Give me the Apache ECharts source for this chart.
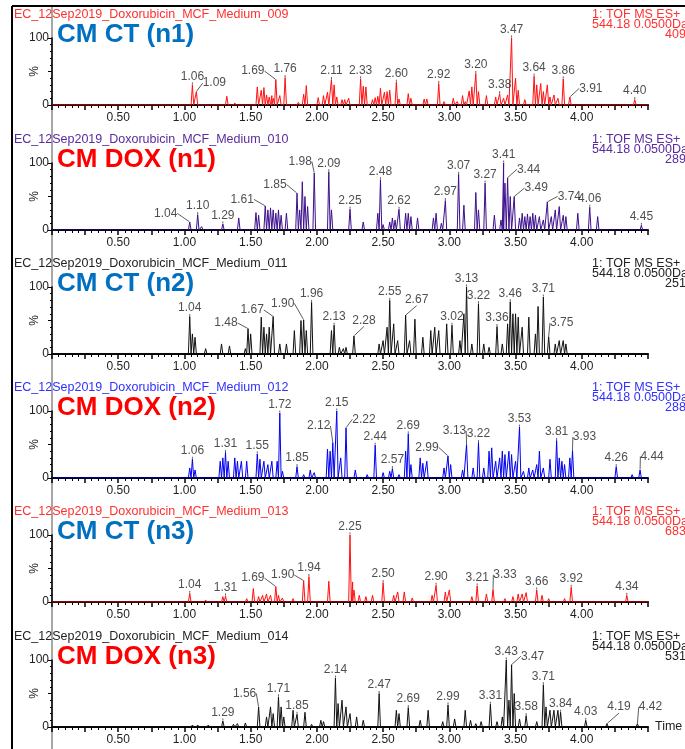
<!DOCTYPE html>
<html><head><meta charset="utf-8">
<script src="https://cdn.jsdelivr.net/npm/echarts@6/dist/echarts.min.js"></script>
<style>html,body{margin:0;padding:0;background:#fff}#c{width:685px;height:749px}</style>
</head><body><div id="c"></div>
<script>
// ---------- DATA ----------
const fileNames = [
  'EC_12Sep2019_Doxorubicin_MCF_Medium_009','EC_12Sep2019_Doxorubicin_MCF_Medium_010',
  'EC_12Sep2019_Doxorubicin_MCF_Medium_011','EC_12Sep2019_Doxorubicin_MCF_Medium_012',
  'EC_12Sep2019_Doxorubicin_MCF_Medium_013','EC_12Sep2019_Doxorubicin_MCF_Medium_014'];
const sampleNames = ['CM CT (n1)','CM DOX (n1)','CM CT (n2)','CM DOX (n2)','CM CT (n3)','CM DOX (n3)'];
const headerLine1 = '1: TOF MS ES+';
const headerLine2 = '544.18 0.0500Da';
const intensities = ['409','289','251','288','683','531'];
const xTickLabels = ['0.50','1.00','1.50','2.00','2.50','3.00','3.50','4.00'];
const yTickLabels = ['0','','100'];

// labelled peaks [time, %]
const ct1Labelled = [[1.06,30],[1.09,20],[1.69,38],[1.76,41],[2.11,38],[2.33,39],[2.60,34],[2.92,32],[3.20,47],[3.38,17],[3.47,100],[3.64,43],[3.86,39],[3.91,12],[4.40,8]];
const ct1Other = [[1.32,13],[1.38,3],[1.55,27],[1.58,22],[1.60,26],[1.62,15],[1.64,12],[1.66,14],[1.67,10],[1.72,14],[1.86,4],[1.90,16],[1.92,29],[2.01,11],[2.05,14],[2.08,19],[2.13,30],[2.15,12],[2.19,8],[2.21,8],[2.24,10],[2.35,28],[2.37,27],[2.42,8],[2.44,11],[2.46,13],[2.48,25],[2.51,19],[2.53,20],[2.55,22],[2.62,9],[2.69,17],[2.71,10],[2.81,9],[2.83,9],[2.96,5],[3.03,10],[3.06,5],[3.10,14],[3.12,5],[3.15,21],[3.17,27],[3.22,20],[3.28,14],[3.35,12],[3.41,10],[3.44,15],[3.50,40],[3.52,22],[3.57,8],[3.66,30],[3.69,32],[3.71,20],[3.74,30],[3.76,12],[3.79,15],[3.82,10]];

const dox1Labelled = [[1.04,12],[1.10,23],[1.29,9],[1.61,36],[1.85,55],[1.98,85],[2.09,87],[2.25,31],[2.48,75],[2.62,31],[2.97,44],[3.07,83],[3.27,70],[3.41,100],[3.44,78],[3.49,50],[3.74,42],[4.06,34],[4.45,7]];
const dox1Other = [[1.13,5],[1.41,18],[1.54,26],[1.56,22],[1.63,30],[1.65,33],[1.67,30],[1.69,25],[1.71,30],[1.73,22],[1.77,25],[1.87,30],[1.89,72],[1.91,50],[1.93,35],[2.11,30],[2.35,12],[2.46,25],[2.50,8],[2.55,12],[2.57,18],[2.59,15],[2.67,25],[2.69,25],[2.71,20],[2.76,18],[2.88,18],[2.90,25],[2.94,10],[3.11,37],[3.20,56],[3.22,30],[3.34,22],[3.39,15],[3.42,70],[3.46,50],[3.53,18],[3.55,25],[3.57,20],[3.59,24],[3.61,20],[3.63,25],[3.65,22],[3.68,20],[3.71,15],[3.77,20],[3.80,30],[3.83,35],[3.86,22],[3.88,20],[3.97,25],[4.12,20]];

const ct2Labelled = [[1.04,56],[1.48,38],[1.67,56],[1.90,51],[1.96,77],[2.13,43],[2.28,27],[2.55,80],[2.67,58],[3.02,43],[3.13,100],[3.22,75],[3.36,41],[3.46,78],[3.71,85],[3.75,26]];
const ct2Other = [[1.06,30],[1.08,25],[1.16,8],[1.28,15],[1.34,12],[1.46,8],[1.50,30],[1.58,55],[1.60,40],[1.62,30],[1.64,40],[1.72,15],[1.77,15],[1.83,35],[1.88,50],[1.92,35],[2.11,35],[2.17,10],[2.20,8],[2.22,10],[2.47,15],[2.50,20],[2.53,40],[2.58,45],[2.61,20],[2.70,20],[2.74,52],[2.80,25],[2.86,35],[2.89,40],[2.92,35],[2.98,45],[3.08,20],[3.11,60],[3.17,15],[3.26,15],[3.30,10],[3.40,15],[3.44,45],[3.48,60],[3.50,60],[3.52,55],[3.55,40],[3.60,55],[3.65,30],[3.67,71],[3.80,15],[3.83,20],[3.86,20],[3.88,15]];

const dox2Labelled = [[1.06,28],[1.31,38],[1.55,36],[1.72,97],[1.85,17],[2.12,53],[2.15,100],[2.22,75],[2.44,49],[2.57,14],[2.69,66],[2.99,33],[3.13,50],[3.22,53],[3.53,76],[3.81,56],[3.93,41],[4.26,17],[4.44,12]];
const dox2Other = [[1.04,15],[1.08,12],[1.27,25],[1.29,30],[1.33,25],[1.38,30],[1.40,25],[1.43,25],[1.47,25],[1.57,28],[1.60,25],[1.63,20],[1.66,25],[1.70,25],[1.74,10],[1.90,5],[1.95,12],[1.98,8],[2.08,43],[2.10,40],[2.18,30],[2.29,12],[2.38,5],[2.50,8],[2.55,10],[2.62,5],[2.67,40],[2.71,20],[2.78,30],[2.80,22],[2.83,25],[2.96,15],[3.01,20],[3.10,12],[3.18,15],[3.26,15],[3.30,40],[3.32,45],[3.35,25],[3.38,30],[3.40,40],[3.42,35],[3.45,40],[3.47,35],[3.50,25],[3.56,10],[3.60,15],[3.63,12],[3.66,20],[3.68,40],[3.71,15],[3.76,28],[3.83,30],[3.85,25],[3.87,20],[3.91,30],[4.38,5]];

const ct3Labelled = [[1.04,13],[1.31,9],[1.69,23],[1.90,32],[1.94,38],[2.25,100],[2.50,29],[2.90,25],[3.21,24],[3.33,19],[3.66,18],[3.92,22],[4.34,10]];
const ct3Other = [[1.16,3],[1.29,8],[1.47,5],[1.52,20],[1.56,8],[1.59,10],[1.62,12],[1.65,10],[1.71,10],[1.74,6],[1.82,5],[2.09,31],[2.27,30],[2.28,18],[2.32,10],[2.37,8],[2.42,10],[2.58,10],[2.61,15],[2.66,15],[2.72,6],[2.87,10],[2.97,15],[3.00,18],[3.17,8],[3.28,12],[3.42,5],[3.48,8],[3.52,12],[3.55,12],[3.58,14],[3.70,10],[3.75,5],[3.87,5]];

const dox3Labelled = [[1.29,9],[1.56,30],[1.71,45],[1.85,19],[2.14,73],[2.47,50],[2.69,29],[2.99,33],[3.31,34],[3.43,100],[3.47,93],[3.58,17],[3.71,63],[3.84,22],[4.03,10],[4.19,5],[4.42,5]];
const dox3Other = [[1.06,3],[1.10,3],[1.18,3],[1.37,4],[1.40,5],[1.46,6],[1.62,15],[1.65,30],[1.67,20],[1.73,30],[1.75,15],[1.82,25],[1.91,22],[1.96,4],[2.03,10],[2.05,8],[2.16,35],[2.19,40],[2.22,30],[2.25,20],[2.30,15],[2.35,10],[2.60,25],[2.62,20],[2.78,10],[2.84,25],[2.95,8],[3.04,12],[3.12,25],[3.16,10],[3.20,5],[3.24,8],[3.36,8],[3.40,15],[3.45,40],[3.49,50],[3.53,12],[3.66,8],[3.73,30],[3.76,25],[3.79,25],[3.82,25]];

const labelledPeaks = [ct1Labelled, dox1Labelled, ct2Labelled, dox2Labelled, ct3Labelled, dox3Labelled];
const otherPeaks = [ct1Other, dox1Other, ct2Other, dox2Other, ct3Other, dox3Other];

// ---------- STYLE ----------
const FONT = '"Liberation Sans", Arial, sans-serif';
const gridTops = [38, 163, 287, 411, 535, 660];
const gridH = 67, gridL = 52, gridW = 596;
const lineColors = ['#ff1010','#3c0f8c','#111111','#0000f0','#ff1010','#111111'];
const fileColors = ['#ff3030','#5a2a9e','#222222','#3030ff','#ff3030','#222222'];
const nameColors = ['#0070c0','#ff0000','#0070c0','#ff0000','#0070c0','#ff0000'];
const halfW = 0.01; // drawn half width of a peak (min)
const labelShift = [
  {'1.09':[18,0],'1.69':[-23,0],'3.91':[21,0]},
  {'1.04':[-24,0],'1.61':[-23,2],'1.85':[-22,0],'1.98':[-14,-3],'3.44':[21,0],'3.49':[22,0],'3.74':[22,3]},
  {'1.48':[-22,3],'1.67':[-21,2],'1.90':[-21,-8],'2.28':[10,-7],'2.67':[11,-7],'3.75':[13,-5]},
  {'2.12':[-14,-8],'2.22':[18,0],'2.99':[-21,0],'3.13':[-12,-5],'3.93':[12,-5],'4.44':[12,-5]},
  {'1.69':[-23,0],'1.90':[-21,3],'3.33':[12,-6]},
  {'1.56':[-14,-5],'3.47':[21,0],'4.19':[12,-8],'4.42':[13,-8]}
];

function buildTrace(a, b) {
  const peaks = a.concat(b).sort((p, q) => p[0] - q[0]);
  const pts = [[0, 0]];
  peaks.forEach(p => { pts.push([p[0] - halfW, 0], [p[0], p[1]], [p[0] + halfW, 0]); });
  pts.push([4.5, 0]);
  pts.sort((p, q) => p[0] - q[0]);
  return pts;
}

const grids = [], xAxes = [], yAxes = [], series = [], graphics = [];
for (let i = 0; i < 6; i++) {
  grids.push({left: gridL, top: gridTops[i], width: gridW, height: gridH});
  xAxes.push({
    gridIndex: i, type: 'value', min: 0, max: 4.5, interval: 0.25,
    axisLine: {onZero: false, lineStyle: {color: '#000', width: 2}},
    axisTick: {length: 5, lineStyle: {color: '#000', width: 1.5}},
    minorTick: {show: true, splitNumber: 5, length: 3, lineStyle: {color: '#000', width: 1}},
    splitLine: {show: false}, minorSplitLine: {show: false},
    axisLabel: {fontSize: 12, color: '#222', fontFamily: FONT, margin: 7, showMinLabel: true, showMaxLabel: true,
      formatter: v => { const s = v.toFixed(2); return xTickLabels.indexOf(s) >= 0 ? s : ''; }}
  });
  yAxes.push({
    gridIndex: i, type: 'value', min: 0, max: 100, interval: 50,
    name: '%', nameLocation: 'middle', nameGap: 11, nameRotate: 90, nameMoveOverlap: false,
    nameTextStyle: {fontSize: 12, color: '#222', fontFamily: FONT},
    axisLine: {show: true, lineStyle: {color: '#000', width: 1.5}},
    axisTick: {show: true, length: 4, lineStyle: {color: '#000', width: 1}},
    minorTick: {show: true, splitNumber: 5, length: 2, lineStyle: {color: '#000'}},
    splitLine: {show: false},
    axisLabel: {fontSize: 12, color: '#222', fontFamily: FONT, margin: 3,
      formatter: v => yTickLabels[Math.round(v / 50)]}
  });
  series.push({
    type: 'line', xAxisIndex: i, yAxisIndex: i, data: buildTrace(labelledPeaks[i], otherPeaks[i]),
    symbol: 'none', showSymbol: false, animation: false, z: 3,
    lineStyle: {color: lineColors[i], width: 1}
  });
  const shifts = labelShift[i];
  const lp = labelledPeaks[i];
  series.push({
    type: 'scatter', xAxisIndex: i, yAxisIndex: i, animation: false, z: 4,
    data: lp.map(p => ({value: p, name: p[0].toFixed(2)})),
    symbol: 'circle', symbolSize: 1, itemStyle: {color: 'rgba(0,0,0,0)'},
    label: {show: true, position: 'top', distance: 2, formatter: p => p.name,
      fontSize: 12, color: '#222', fontFamily: FONT},
    labelLine: {show: true, lineStyle: {color: '#333', width: 0.8}},
    labelLayout: params => {
      const s = shifts[lp[params.dataIndex][0].toFixed(2)];
      return s ? {dx: s[0], dy: s[1]} : {};
    }
  });
  const t = gridTops[i];
  graphics.push(
    {type: 'text', left: 14, top: t - 30, z: 1, style: {text: fileNames[i], fill: fileColors[i], font: '12.5px ' + FONT}},
    {type: 'text', left: 592, top: t - 30, z: 1, style: {text: headerLine1, fill: fileColors[i], font: '12.5px ' + FONT}},
    {type: 'text', left: 592, top: t - 20, z: 1, style: {text: headerLine2, fill: fileColors[i], font: '12.5px ' + FONT}},
    {type: 'text', left: 665, top: t - 10, z: 1, style: {text: intensities[i], fill: fileColors[i], font: '12.5px ' + FONT}},
    {type: 'text', left: 57, top: t - 16, z: 5, style: {text: sampleNames[i], fill: nameColors[i], font: 'bold 26px ' + FONT}}
  );
}
graphics.push(
  {type: 'line', shape: {x1: 12, y1: 6, x2: 12, y2: 749}, style: {stroke: '#000', lineWidth: 2}},
  {type: 'line', shape: {x1: 12, y1: 6, x2: 685, y2: 6}, style: {stroke: '#000', lineWidth: 2}},
  {type: 'line', shape: {x1: 52, y1: 6, x2: 52, y2: 749}, style: {stroke: '#8a8a8a', lineWidth: 1.5}, z: -1},
  {type: 'text', left: 655, top: gridTops[5] + gridH - 7, style: {text: 'Time', fill: '#222', font: '12.5px ' + FONT}}
);

const chart = echarts.init(document.getElementById('c'), null, {renderer: 'canvas'});
chart.setOption({
  animation: false, backgroundColor: '#fff',
  grid: grids, xAxis: xAxes, yAxis: yAxes, series: series, graphic: graphics
});
</script></body></html>
